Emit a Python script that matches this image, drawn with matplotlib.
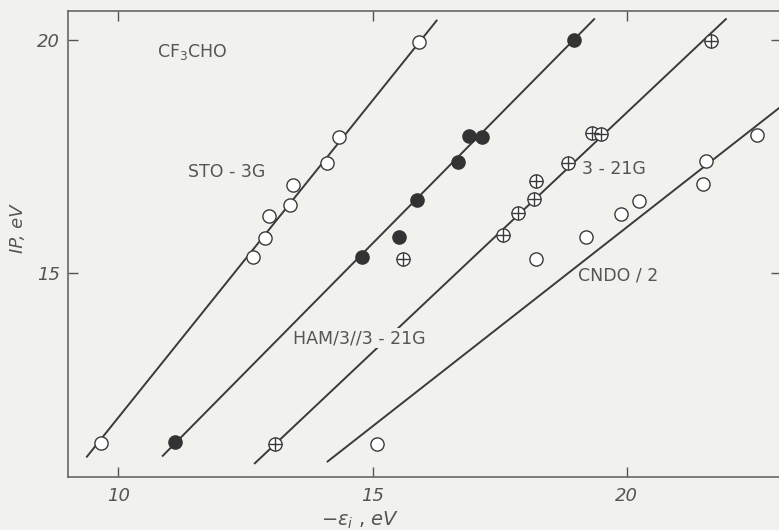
"""
CF3CHO: experimental IP vs. -epsilon_i for four methods (scanned figure remake).
"""
import matplotlib
matplotlib.use("Agg")
import matplotlib.pyplot as plt

BG = "#f1f1ee"
INK = "#3a3a3a"
TXT = "#555555"

# STO-3G (open circles)
sto_x = [9.65, 12.65, 12.89, 12.97, 13.37, 13.43, 14.10, 14.34, 15.91]
sto_y = [11.36, 15.34, 15.74, 16.22, 16.46, 16.89, 17.35, 17.92, 19.96]
# HAM/3 // 3-21G (filled circles)
ham_x = [11.12, 14.79, 15.52, 15.87, 16.67, 16.90, 17.15, 18.96]
ham_y = [11.37, 15.34, 15.78, 16.57, 17.39, 17.94, 17.91, 20.00]
# 3-21G (crossed circles)
b321_x = [13.08, 15.60, 17.56, 17.85, 18.17, 18.21, 18.85, 19.31, 19.49, 21.66]
b321_y = [11.32, 15.30, 15.82, 16.28, 16.58, 16.97, 17.35, 18.00, 17.98, 19.98]
# CNDO/2 (open circles)
cndo_x = [15.09, 18.21, 19.19, 19.88, 20.24, 21.49, 21.55, 22.55]
cndo_y = [11.32, 15.29, 15.77, 16.26, 16.55, 16.91, 17.40, 17.96]

# fitted straight lines, endpoints
sto_fit_x, sto_fit_y = [9.37, 16.27], [11.04, 20.43]
ham_fit_x, ham_fit_y = [10.86, 19.37], [11.06, 20.46]
b321_fit_x, b321_fit_y = [12.67, 21.96], [10.90, 20.46]
cndo_fit_x, cndo_fit_y = [14.10, 23.10], [10.94, 18.63]

xticks = [10, 15, 20]
yticks = [15, 20]

fig = plt.figure(figsize=(7.79, 5.30), dpi=100)
fig.patch.set_facecolor(BG)
ax = fig.add_axes([68/779, 53/530, 713/779, 466/530])
ax.set_facecolor(BG)

for fx, fy in [(sto_fit_x, sto_fit_y), (ham_fit_x, ham_fit_y),
               (b321_fit_x, b321_fit_y), (cndo_fit_x, cndo_fit_y)]:
    ax.plot(fx, fy, color=INK, lw=1.4, zorder=2, solid_capstyle="butt")

ms = 9.5
ax.plot(sto_x, sto_y, "o", ms=ms, mfc="white", mec=INK, mew=1.0, zorder=4)
ax.plot(cndo_x, cndo_y, "o", ms=ms, mfc="white", mec=INK, mew=1.0, zorder=4)
ax.plot(ham_x, ham_y, "o", ms=ms, mfc="#333333", mec="#333333", mew=1.0, zorder=4)
ax.plot(b321_x, b321_y, "o", ms=ms, mfc="white", mec=INK, mew=1.0, zorder=4)
ax.plot(b321_x, b321_y, "+", ms=ms, mec=INK, mew=1.0, zorder=5)

lab = dict(color=TXT, fontsize=12.5, va="center", ha="left", zorder=6)
ax.text(10.76, 19.74, "CF$_3$CHO", **lab)
ax.text(11.37, 17.17, "STO - 3G", **lab)
ax.text(19.11, 17.24, "3 - 21G", **lab)
ax.text(19.04, 14.95, "CNDO / 2", **lab)
ax.text(13.43, 13.60, "HAM/3//3 - 21G", bbox=dict(fc=BG, ec="none", pad=0.5), **lab)

ax.set_xlim(9.01, 23.03)
ax.set_ylim(10.62, 20.62)
ax.set_xticks(xticks)
ax.set_yticks(yticks)
ax.tick_params(direction="in", length=7, width=1.0, color="#555555",
               top=True, right=True, labelcolor=TXT, labelsize=13)
ax.tick_params(axis="x", pad=7)
ax.tick_params(axis="y", pad=6)
for lbl in ax.get_xticklabels() + ax.get_yticklabels():
    lbl.set_fontstyle("italic")
for s in ax.spines.values():
    s.set_color("#666666")
    s.set_linewidth(1.2)

fig.text(360/779, 1 - 520/530, r"$-\varepsilon_i$ , $eV$", color=TXT,
         fontsize=14, ha="center", va="center")
fig.text(18/779, 1 - 229/530, "IP, eV", color=TXT, fontsize=13,
         style="italic", rotation=90, ha="center", va="center")

fig.savefig("out.png", dpi=100, facecolor=BG)
